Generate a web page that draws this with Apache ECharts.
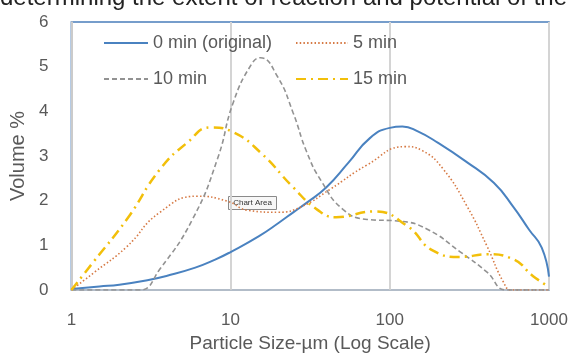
<!DOCTYPE html>
<html>
<head>
<meta charset="utf-8">
<script src="https://cdn.jsdelivr.net/npm/echarts@6/dist/echarts.min.js"></script>
<style>
  html, body { margin: 0; padding: 0; background: #fff; }
  #main { width: 573px; height: 358px; }
</style>
</head>
<body>
<div id="main"></div>
<script>
// particle size (um) vs volume %
var min0 = [[1,0.02],[1.5,0.08],[2,0.12],[3,0.22],[4,0.32],[6,0.5],[8,0.68],[10,0.85],[15,1.2],[20,1.5],[25,1.75],[30,1.95],[40,2.3],[55,2.85],[75,3.4],[100,3.63],[120,3.66],[150,3.55],[200,3.3],[300,2.88],[450,2.4],[600,1.85],[750,1.35],[900,0.95],[1000,0.3]];
var min5 = [[1,0],[1.4,0.4],[2.2,0.95],[3.6,1.74],[6.2,2.1],[9.5,1.99],[13,1.78],[20,1.74],[28,1.87],[42,2.25],[72,2.8],[125,3.21],[160,3.12],[215,2.72],[305,1.88],[408,0.98],[517,0.18],[580,0],[1000,0]];
var min10 = [[1,0],[2,0],[2.7,0],[3.6,0.47],[5.8,1.6],[8.3,2.95],[10.4,4.2],[13.5,5.05],[15.4,5.2],[19.7,4.78],[24.7,3.97],[30,3.1],[37,2.45],[51,1.8],[72,1.58],[116,1.54],[172,1.36],[278,0.85],[408,0.4],[540,0],[1000,0]];
var min15 = [[1,0],[1.37,0.62],[2.25,1.6],[3.6,2.7],[5.35,3.3],[7.5,3.64],[10.4,3.53],[15.4,3.08],[24.7,2.3],[35,1.8],[46,1.63],[80,1.76],[129,1.43],[187,0.88],[278,0.74],[408,0.8],[594,0.69],[795,0.31],[1000,0.07]];

var names = ['0 min (original)', '5 min', '10 min', '15 min'];
var colors = ['#4a82c0', '#d67a45', '#929292', '#f2bf0a'];
var yTicks = [0, 1, 2, 3, 4, 5, 6];

var chart = echarts.init(document.getElementById('main'));
var txt = '#595959';
var font = '"Liberation Sans", Arial, sans-serif';

function mk(name, data, color, type, width) {
    return {
        name: name, type: 'line', data: data, smooth: true,
        symbol: 'none', showSymbol: false, color: color,
        lineStyle: { color: color, width: width, type: type }
    };
}

var legendBase = {
    orient: 'vertical', top: 29, itemHeight: 14, itemGap: 18,
    itemStyle: { opacity: 0 },
    textStyle: { color: txt, fontSize: 18, fontFamily: font }
};

chart.setOption({
    animation: false,
    textStyle: { fontFamily: font },
    grid: { left: 71, right: 24, top: 22, bottom: 67, show: true, borderColor: '#4a7ebb', borderWidth: 1.5 },
    legend: [
        Object.assign({}, legendBase, { data: [names[0], names[2]], left: 98, itemWidth: 44 }),
        Object.assign({}, legendBase, { data: [names[1], names[3]], left: 290, itemWidth: 52 })
    ],
    xAxis: {
        type: 'log', logBase: 10, min: 1, max: 1000,
        name: 'Particle Size-µm (Log Scale)', nameLocation: 'middle', nameGap: 44,
        nameTextStyle: { color: txt, fontSize: 19 },
        axisLine: { lineStyle: { color: '#c8c8c8', width: 1.5 } },
        axisTick: { show: false },
        splitLine: { show: true, lineStyle: { color: '#d4d4d4', width: 2 } },
        minorTick: { show: false },
        axisLabel: { color: txt, fontSize: 17, margin: 22, formatter: function (v) { return String(v); } }
    },
    yAxis: {
        type: 'value', min: yTicks[0], max: yTicks[yTicks.length - 1], interval: 1,
        name: 'Volume %', nameLocation: 'middle', nameGap: 33,
        nameTextStyle: { color: txt, fontSize: 20 },
        axisLine: { show: true, lineStyle: { color: '#c8c8c8', width: 1.5 } },
        axisTick: { show: false },
        splitLine: { show: false },
        axisLabel: { color: txt, fontSize: 17, margin: 23 }
    },
    series: [
        mk(names[0], min0, colors[0], 'solid', 2),
        mk(names[1], min5, colors[1], [1.5, 2.2], 1.6),
        mk(names[2], min10, colors[2], [5, 3], 1.6),
        mk(names[3], min15, colors[3], [10, 5, 2, 5], 2.5)
    ],
    graphic: [
        { type: 'text', left: 0, top: -14, silent: true,
          style: { text: 'determining the extent of reaction and potential of the', font: '24px ' + font, fill: '#222' } },
        { type: 'group', left: 228, top: 196, children: [
            { type: 'rect', shape: { x: 0, y: 0, width: 48, height: 13 }, style: { fill: '#f7f7f7', stroke: '#8a8a8a', lineWidth: 1 } },
            { type: 'text', x: 24, y: 6.5, style: { text: 'Chart Area', font: '8px ' + font, fill: '#333', align: 'center', verticalAlign: 'middle' } }
        ] }
    ]
});
</script>
</body>
</html>
